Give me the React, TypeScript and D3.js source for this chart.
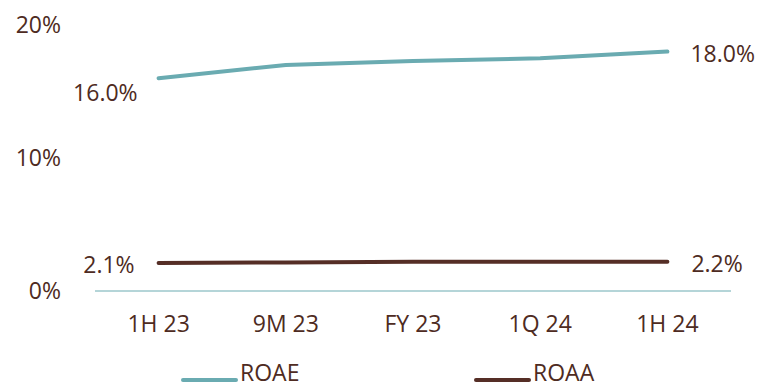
import React from "react";
import * as d3 from "d3";

const categories = ["1H 23", "9M 23", "FY 23", "1Q 24", "1H 24"];
const roae = [16.0, 17.0, 17.3, 17.5, 18.0];
const roaa = [2.1, 2.15, 2.2, 2.2, 2.2];
const yTicks = [0, 10, 20];
const seriesNames = ["ROAE", "ROAA"];

const W = 758;
const H = 387;
const TEAL = "#6aabb1";
const BROWN = "#552e26";
const TEXT = "#4e2b22";
const FONT = "'Open Sans', 'Noto Sans', sans-serif";
const FS = 23;

export default function App() {
  const x = d3.scaleBand<string>().domain(categories).range([95, 731]);
  const y = d3.scaleLinear().domain([0, 20]).range([291, 25]);
  const cx = (c: string) => (x(c) ?? 0) + x.bandwidth() / 2;
  const line = d3
    .line<number>()
    .x((_, i) => cx(categories[i]))
    .y((d) => y(d));

  const series = [
    { name: seriesNames[0], values: roae, color: TEAL },
    { name: seriesNames[1], values: roaa, color: BROWN },
  ];
  const last = categories.length - 1;

  return (
    <svg
      width={W}
      height={H}
      style={{ position: "absolute", left: 0, top: 0 }}
      fontFamily={FONT}
    >
      {yTicks.map((t) => (
        <text
          key={t}
          x={61}
          y={y(t) - 1}
          textAnchor="end"
          dominantBaseline="central"
          fontSize={FS}
          fill={TEXT}
        >
          {t}%
        </text>
      ))}
      <line x1={95} x2={731} y1={y(0)} y2={y(0)} stroke={TEAL} strokeWidth={1} />
      {categories.map((c) => (
        <text
          key={c}
          x={cx(c)}
          y={323}
          textAnchor="middle"
          dominantBaseline="central"
          fontSize={FS}
          fill={TEXT}
        >
          {c}
        </text>
      ))}
      {series.map((s) => (
        <path
          key={s.name}
          d={line(s.values) ?? ""}
          fill="none"
          stroke={s.color}
          strokeWidth={4}
          strokeLinecap="round"
          strokeLinejoin="round"
        />
      ))}
      {/* data labels */}
      <text x={cx(categories[0]) - 21} y={y(roae[0]) + 14} textAnchor="end" dominantBaseline="central" fontSize={FS} fill={TEXT}>
        {roae[0].toFixed(1)}%
      </text>
      <text x={cx(categories[last]) + 23} y={y(roae[last]) + 1} textAnchor="start" dominantBaseline="central" fontSize={FS} fill={TEXT}>
        {roae[last].toFixed(1)}%
      </text>
      <text x={cx(categories[0]) - 24} y={y(roaa[0]) + 1} textAnchor="end" dominantBaseline="central" fontSize={FS} fill={TEXT}>
        {roaa[0].toFixed(1)}%
      </text>
      <text x={cx(categories[last]) + 24} y={y(roaa[last]) + 1} textAnchor="start" dominantBaseline="central" fontSize={FS} fill={TEXT}>
        {roaa[last].toFixed(1)}%
      </text>
      {/* legend */}
      {series.map((s, i) => {
        const lx = i === 0 ? 183 : 476;
        return (
          <g key={s.name}>
            <line x1={lx} x2={lx + 53} y1={380} y2={380} stroke={s.color} strokeWidth={4} strokeLinecap="round" />
            <text x={lx + 57} y={372} dominantBaseline="central" fontSize={FS} fill={TEXT}>
              {s.name}
            </text>
          </g>
        );
      })}
    </svg>
  );
}
